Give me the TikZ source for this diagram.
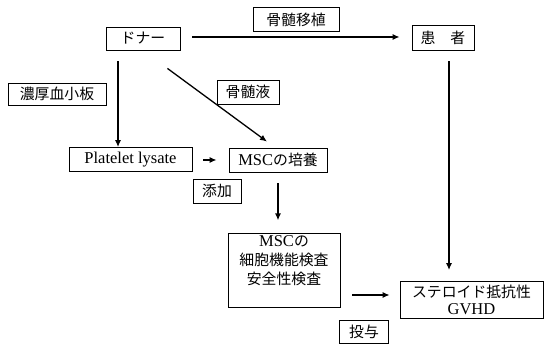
\documentclass[tikz,border=0pt]{standalone}
\usepackage{fontspec}
\setmainfont{Liberation Serif}
\newfontfamily\jp[Scale=0.9]{Noto Sans CJK JP}
\usetikzlibrary{calc,arrows.meta}
\begin{document}
\begin{tikzpicture}[x=1pt,y=-1pt,
  box/.style={draw=black,line width=0.8pt,inner sep=0pt,align=center,font=\fontsize{16.5}{19}\selectfont},
  arr/.style={line width=1.3pt,-{Latex[length=7pt,width=6pt]}}]
\useasboundingbox (0,0) rectangle (544,344);
\node[box,minimum width=74pt,minimum height=23pt] (donor) at (143,38.5) {\jp ドナー};
\node[box,minimum width=86pt,minimum height=24pt] (bmt) at (296,19.5) {\jp 骨髄移植};
\node[box,minimum width=62pt,minimum height=25pt] (patient) at (443,37.5) {\jp 患　者};
\node[box,minimum width=98pt,minimum height=22pt] (conc) at (57,94) {\jp 濃厚血小板};
\node[box,minimum width=62pt,minimum height=24pt] (bm) at (248,92) {\jp 骨髄液};
\node[box,minimum width=123pt,minimum height=24pt] (pl) at (130.5,159.5) {Platelet lysate};
\node[box,minimum width=98pt,minimum height=24pt] (msc) at (278,160) {MSC{\jp の培養}};
\node[box,minimum width=48pt,minimum height=24pt] (add) at (217,191) {\jp 添加};
\node[box,minimum width=112pt,minimum height=74pt] (test) at (284,270) {MSC{\jp の}\\{\jp 細胞機能検査}\\{\jp 安全性検査}\\\mbox{}};
\node[box,minimum width=143pt,minimum height=37pt,font=\fontsize{16.5}{17}\selectfont] (steroid) at (471.5,300) {{\jp ステロイド抵抗性}\\GVHD};
\node[box,minimum width=49pt,minimum height=23pt] (give) at (364,331.5) {\jp 投与};
% connectors, from node to node with gaps
\draw[arr] ($(donor.east)+(12,-1.5)$) -- ($(patient.west)+(-12,-0.5)$);
\draw[arr] ($(donor.south)+(-25,11)$) -- (pl.north -| {$(donor.south)+(-25,0)$});
\draw[arr] ($(donor.south east)+(-13,18)$) -- ($(msc.north)+(-11,-6)$);
\draw[arr] ($(pl.east)+(11,0.5)$) -- ($(msc.west)+(-12,0)$);
\draw[arr] ($(msc.south)+(0,11)$) -- ($(msc.south)+(0,48)$);
\draw[arr] ($(test.east)+(12,25)$) -- ($(steroid.west)+(-10,-5)$);
\draw[arr] ($(patient.south)+(6,11)$) -- ($(steroid.north)+(-22.5,-11)$);
\end{tikzpicture}
\end{document}
